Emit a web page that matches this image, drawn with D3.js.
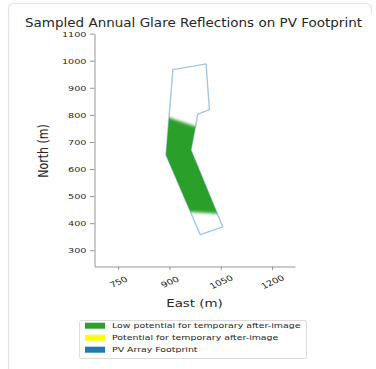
<!DOCTYPE html>
<html><head><meta charset="utf-8">
<script src="https://cdn.jsdelivr.net/npm/d3@7"></script>
<style>body{margin:0;background:#fff}svg{display:block;font-family:"DejaVu Sans",sans-serif}</style>
</head><body><svg id="c" width="376" height="369"></svg>
<script>
const titleText = "Sampled Annual Glare Reflections on PV Footprint";
const xLabel = "East (m)";
const yLabel = "North (m)";
const footprintEast  = [910, 1007, 1017, 983, 963, 1056, 990, 890];
const footprintNorth = [967, 988, 819, 803, 670, 386, 358, 652];
const lowBandEast  = [850, 1100, 1100, 850];
const lowBandNorth = [811, 704, 431, 450];
const xTicks = [750, 900, 1050, 1200];
const yTicks = [300, 400, 500, 600, 700, 800, 900, 1000, 1100];
const legendLabels = ["Low potential for temporary after-image", "Potential for temporary after-image", "PV Array Footprint"];
const legendColors = ["#2ca02c", "#ffff00", "#1f77b4"];

const SX = 1.27;
const svg = d3.select("#c");
const x = d3.scaleLinear().domain([681, 1267]).range([94.5, 295]);
const y = d3.scaleLinear().domain([240, 1100]).range([266.5, 33.6]);
const txt = "#262626", axc = "#8a8a8a";

// figure border (left + top)
svg.append("path").attr("d", "M8.5,369 L8.5,9 Q8.5,3.5 14,3.5 L366,3.5 Q371.5,3.5 371.5,9 L371.5,14")
  .attr("fill", "none").attr("stroke", "#e2e2e2").attr("stroke-width", 1.2);

// title
svg.append("text").attr("x", 25).attr("y", 27).attr("font-size", 12.2).attr("fill", txt)
  .attr("textLength", 337).attr("lengthAdjust", "spacingAndGlyphs").text(titleText);

const defs = svg.append("defs");
const fpPts = footprintEast.map((e, i) => [x(e), y(footprintNorth[i])]);
const line = d3.line();
defs.append("clipPath").attr("id", "fp").append("path").attr("d", line(fpPts) + "Z");
const blur = defs.append("filter").attr("id", "soft").attr("x", "-20%").attr("y", "-20%").attr("width", "140%").attr("height", "140%");
blur.append("feGaussianBlur").attr("stdDeviation", 1.6);

// footprint outline
svg.append("path").attr("d", line(fpPts) + "Z").attr("fill", "none")
  .attr("stroke", "#a6c6de").attr("stroke-width", 1.4).attr("stroke-linejoin", "round");

// low potential glare region
const bandPts = lowBandEast.map((e, i) => [x(e), y(lowBandNorth[i])]);
svg.append("g").attr("clip-path", "url(#fp)")
  .append("path").attr("d", line(bandPts) + "Z").attr("fill", "#2ca02c").attr("filter", "url(#soft)");

// axes
const gx = svg.append("g").attr("transform", "translate(0,266.5)")
  .call(d3.axisBottom(x).tickValues(xTicks).tickSize(3.5).tickSizeOuter(0).tickFormat(d3.format("d")));
gx.selectAll("text").attr("x", 0).attr("y", 0).attr("dy", "0.35em").attr("text-anchor", "middle")
  .attr("font-size", 7.8).attr("fill", txt)
  .attr("transform", `translate(0,15.5) scale(${SX},1) rotate(-30)`);
const gy = svg.append("g").attr("transform", "translate(94.5,0)")
  .call(d3.axisLeft(y).tickValues(yTicks).tickSize(4.5).tickSizeOuter(0).tickFormat(d3.format("d")));
gy.selectAll("text").attr("x", 0).attr("dy", "0.35em").attr("text-anchor", "end")
  .attr("font-size", 7.6).attr("fill", txt)
  .attr("transform", `translate(-8,0) scale(${SX},1)`);
svg.selectAll(".domain, .tick line").attr("stroke", axc).attr("stroke-width", 0.9);
svg.selectAll(".tick text").attr("font-family", "DejaVu Sans");

svg.append("text").attr("text-anchor", "middle").attr("font-size", 11).attr("fill", txt)
  .attr("transform", `translate(194.5,306.5) scale(1.22,1)`).text(xLabel);
svg.append("text").attr("text-anchor", "middle").attr("font-size", 11).attr("fill", txt)
  .attr("transform", `translate(48,151) scale(${SX},1) rotate(-90)`).text(yLabel);

// legend
svg.append("rect").attr("x", 79.5).attr("y", 320.5).attr("width", 227).attr("height", 38).attr("rx", 2)
  .attr("fill", "#fff").attr("stroke", "#dcdcdc").attr("stroke-width", 1);
const lg = svg.append("g").selectAll("g").data(legendLabels).join("g")
  .attr("transform", (d, i) => `translate(0,${325.7 + i * 12})`);
lg.append("rect").attr("x", 85).attr("y", -3).attr("width", 20).attr("height", 6)
  .attr("fill", (d, i) => legendColors[i]);
lg.append("text").attr("font-size", 7.4).attr("fill", txt).attr("dy", "0.35em")
  .attr("transform", `translate(112,0) scale(${SX},1)`).text(d => d);
</script></body></html>
